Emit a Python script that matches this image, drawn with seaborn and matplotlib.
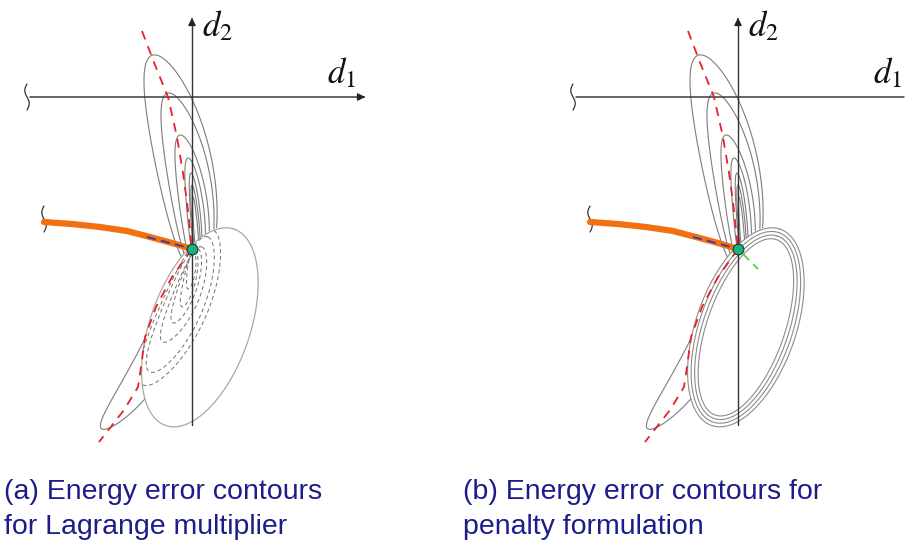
import numpy as np
import pandas as pd
import matplotlib.pyplot as plt
import seaborn as sns

sns.set_theme(style="white")
plt.rcParams['font.family'] = ['Liberation Sans', 'DejaVu Sans']
plt.rcParams['mathtext.fontset'] = 'stix'

# panel origins in pixels (where d1 and d2 cross)
panel_x0 = [192, 738]
origin_y = 97
captions = [["(a) Energy error contours", "for Lagrange multiplier"],
            ["(b) Energy error contours for", "penalty formulation"]]
caption_x = [4, 463]

# points read on the lower tilted ellipse (local coords, y down)
ell_x = [35, 66, -17, -50, -1, -22]
ell_y = [130, 190, 330, 268, 151, 175]
n_rings = [1, 4]
ring_gap = 3.7

# banana shaped contours: common base, tips, half widths, bend
banana_base = (7, 178)
banana_tip_x = [-39, -24, -12, -4, -1, 0, 1]
banana_tip_y = [-42, -4, 38, 61, 76, 88, 100]
banana_half_w = [28, 21, 14, 8.5, 5, 3.5, 2]
banana_bend = [8, 6.5, 4, 2.5, 1.2, 0.6, 0.3]

# narrow leaf going down to the left
leaf_top = (0, 152)
leaf_tip = (-90, 332)
leaf_half_w = 17
leaf_bend = 15

# dashed contours of panel (a)
lens_top_x = [21, 16, 10, 6, 3, 1]
lens_top_y = [133, 140, 150, 152, 153, 153]
lens_bot_x = [-49, -42, -29, -19, -10, -4]
lens_bot_y = [288, 275, 245, 226, 210, 192]
lens_half_w = [23, 19, 13, 9, 6, 4]
lens_bend = [6, 5, 4, 2.5, 1.5, 1]

red_upper_x = [-50, -37, -24, -15, -9, -5, -2, 0]
red_upper_y = [-66, -32, 0, 40, 76, 105, 133, 152]
red_lower_x = [0, -20, -36, -47, -51, -54, -68, -93]
red_lower_y = [152, 180, 210, 240, 270, 290, 313, 345]

orange_x = [-148, -120, -92, -65, -42, -20, 0]
orange_y = [125, 127, 130, 134, 140, 146, 152]
blue_x = [-45, -3]
blue_y = [140, 151]
green_x = [-4, 20]
green_y = [148, 172]

d1_end = [176, 172]


def lens(p0, p1, w, bend, n=300):
    p0 = np.asarray(p0, float)
    p1 = np.asarray(p1, float)
    t = np.linspace(0, 2 * np.pi, n)
    s = (1 - np.cos(t)) / 2
    d = p1 - p0
    u = d / np.hypot(*d)
    nv = np.array([-u[1], u[0]])
    if nv[0] < 0:
        nv = -nv
    c = p0 + np.outer(s, d) + np.outer(4 * s * (1 - s) * bend, nv)
    pts = c + np.outer(w * np.sin(t), nv)
    return pts[:, 0], pts[:, 1]


# fit the ellipse through the read points
ex, ey = np.array(ell_x, float), np.array(ell_y, float)
A = np.column_stack([ex**2, ex * ey, ey**2, ex, ey])
ca, cb, cc, cd, ce = np.linalg.lstsq(A, np.ones(len(ex)), rcond=None)[0]
M = np.array([[ca, cb / 2], [cb / 2, cc]])
g = np.array([cd, ce])
cen = -0.5 * np.linalg.solve(M, g)
K = 1 + cen @ M @ cen
evals, evecs = np.linalg.eigh(M / K)
semi = 1 / np.sqrt(evals)


def ring(k, n=400):
    t = np.linspace(0, 2 * np.pi, n)
    sa = semi - k * ring_gap
    pts = cen + (evecs @ np.vstack([sa[0] * np.cos(t), sa[1] * np.sin(t)])).T
    return pts[:, 0], pts[:, 1]


def inside(x, y):
    q = np.column_stack([x, y]) - cen
    r = q @ evecs
    return (r[:, 0] / semi[0])**2 + (r[:, 1] / semi[1])**2 < 1


rows = {'solid': [], 'ring_a': [], 'ring_b': [], 'dash': []}
uid = [0]


def add(kind, x, y, keep=None):
    if keep is None:
        keep = np.ones(len(x), bool)
    start = None
    for i in range(len(x) + 1):
        if i < len(x) and keep[i]:
            if start is None:
                start = i
        elif start is not None:
            if i - start > 1:
                uid[0] += 1
                rows[kind].append(pd.DataFrame({'x': x[start:i], 'y': y[start:i], 'unit': uid[0]}))
            start = None


fig = plt.figure(figsize=(9.09, 5.48), dpi=100)
ax = fig.add_axes([0, 0, 1, 1])

for p, x0 in enumerate(panel_x0):
    for tx, ty, w, b in zip(banana_tip_x, banana_tip_y, banana_half_w, banana_bend):
        bx, by = lens(banana_base, (tx, ty), w, b)
        add('solid', bx + x0, by + origin_y, ~inside(bx, by))
    lx, ly = lens(leaf_top, leaf_tip, leaf_half_w, leaf_bend)
    add('solid', lx + x0, ly + origin_y, ~inside(lx, ly))
    for k in range(n_rings[p]):
        rx, ry = ring(k)
        add('ring_a' if p == 0 else 'ring_b', rx + x0, ry + origin_y)
    if p == 0:
        for tx, ty, bx_, by_, w, b in zip(lens_top_x, lens_top_y, lens_bot_x, lens_bot_y,
                                          lens_half_w, lens_bend):
            dx, dy = lens((tx, ty), (bx_, by_), w, b)
            add('dash', dx + x0, dy + origin_y, inside(dx, dy))

styles = {'solid': dict(color='#7d7d7d', lw=0.8),
          'ring_a': dict(color='#a8a8a8', lw=0.9),
          'ring_b': dict(color='#8c8c8c', lw=0.8),
          'dash': dict(color='#707070', lw=0.7, linestyle=(0, (4, 3)))}
for kind, st in styles.items():
    df = pd.concat(rows[kind], ignore_index=True)
    sns.lineplot(data=df, x='x', y='y', units='unit', estimator=None, sort=False,
                 legend=False, ax=ax, **st)

for p, x0 in enumerate(panel_x0):
    # axes
    ax.plot([x0 - 162, x0 + d1_end[p] - 6], [origin_y, origin_y], color='#3c3c3c', lw=1.1)
    ax.annotate('', xy=(x0 + d1_end[p], origin_y), xytext=(x0 + d1_end[p] - 8, origin_y),
                arrowprops=dict(arrowstyle='-|>', color='#222222', lw=1, mutation_scale=11))
    ax.plot([x0, x0], [origin_y + 328, 22], color='#333333', lw=1.0)
    ax.annotate('', xy=(x0, 15), xytext=(x0, 23),
                arrowprops=dict(arrowstyle='-|>', color='#222222', lw=1, mutation_scale=11))
    ax.text(x0 + 10, origin_y - 61, '$d_2$', fontsize=25, ha='left', va='baseline', color='#111111')
    ax.text(x0 + 135, origin_y - 14, '$d_1$', fontsize=25, ha='left', va='baseline', color='#111111')

    # squiggles
    sy = np.linspace(-13, 13, 40)
    sx = 2.2 * np.sin(np.pi * sy / 13)
    ax.plot(x0 - 165 + sx, origin_y + sy, color='#333333', lw=0.9)
    ax.plot(x0 - 148 + sx, origin_y + 122 + sy, color='#333333', lw=0.9)

    # constraint lines
    sns.lineplot(x=np.array(red_upper_x) + x0, y=np.array(red_upper_y) + origin_y, sort=False,
                 color='#e8202a', lw=1.3, linestyle=(0, (5, 4)), ax=ax)
    sns.lineplot(x=np.array(red_lower_x) + x0, y=np.array(red_lower_y) + origin_y, sort=False,
                 color='#e8202a', lw=1.3, linestyle=(0, (5, 4)), ax=ax)
    sns.lineplot(x=np.array(orange_x) + x0, y=np.array(orange_y) + origin_y, sort=False,
                 color='#f2700f', lw=4.5, ax=ax, zorder=5)
    sns.lineplot(x=np.array(blue_x) + x0, y=np.array(blue_y) + origin_y, sort=False,
                 color='#3a3aa8', lw=1.3, linestyle=(0, (5, 3)), ax=ax, zorder=6)
    if p == 1:
        sns.lineplot(x=np.array(green_x) + x0, y=np.array(green_y) + origin_y, sort=False,
                     color='#44dd44', lw=1.4, linestyle=(0, (4, 3)), ax=ax, zorder=6)
    ax.scatter([x0], [origin_y + 152], s=60, color='#1fae7e', edgecolor='#0b3d2c',
               linewidth=0.8, zorder=7)

    # caption
    ax.text(caption_x[p], 499, captions[p][0], fontsize=20.5, color='#1c1c8a', va='baseline')
    ax.text(caption_x[p], 534, captions[p][1], fontsize=20.5, color='#1c1c8a', va='baseline')

ax.set_xlim(0, 909)
ax.set_ylim(548, 0)
ax.axis('off')
fig.savefig('out.png', dpi=100)
